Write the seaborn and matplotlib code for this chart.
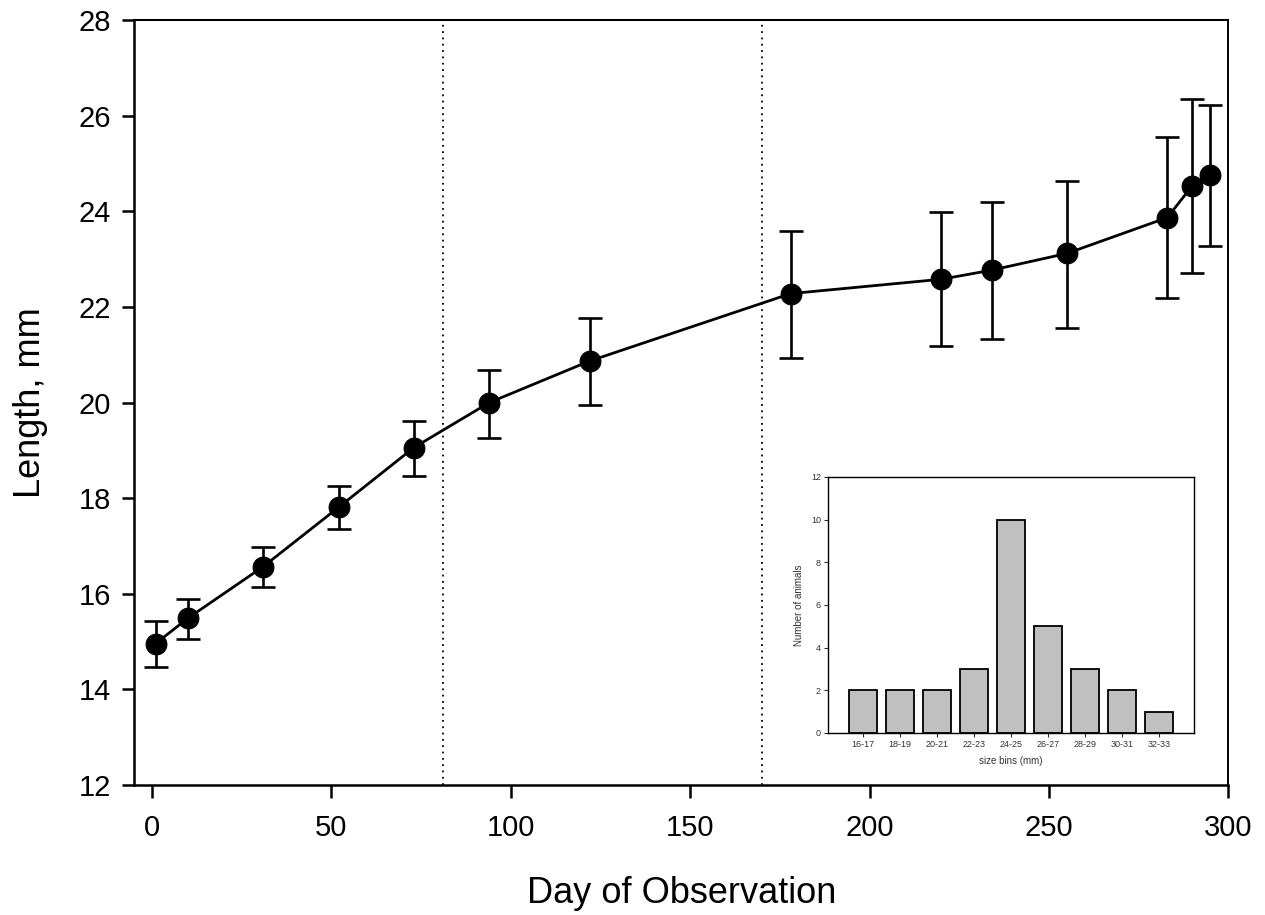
import seaborn as sns
import pandas as pd
import matplotlib.pyplot as plt

# growth data
days = [1, 10, 31, 52, 73, 94, 122, 178, 220, 234, 255, 283, 290, 295]
length_mm = [14.96, 15.49, 16.57, 17.81, 19.06, 20.0, 20.87, 22.28, 22.58, 22.77, 23.12, 23.87, 24.54, 24.76]
err_low = [0.49, 0.44, 0.42, 0.46, 0.60, 0.73, 0.91, 1.34, 1.39, 1.44, 1.57, 1.68, 1.82, 1.49]
err_high = [0.47, 0.41, 0.41, 0.44, 0.56, 0.69, 0.89, 1.31, 1.40, 1.43, 1.51, 1.68, 1.80, 1.46]
phase_breaks = [81, 170]

# inset histogram
size_bins = ["16-17", "18-19", "20-21", "22-23", "24-25", "26-27", "28-29", "30-31", "32-33"]
n_animals = [2, 2, 2, 3, 10, 5, 3, 2, 1]

sns.set_style("ticks")
plt.rcParams['font.family'] = ['Liberation Sans', 'DejaVu Sans']

growth = pd.DataFrame({"Day": days, "Length": length_mm})
hist = pd.DataFrame({"bin": size_bins, "count": n_animals})

fig = plt.figure(figsize=(12.65, 9.15), dpi=100)
ax = fig.add_axes([0.106, 0.142, 0.865, 0.836])

for xb in phase_breaks:
    ax.axvline(xb, color="black", ls=(0, (1, 2.5)), lw=1.3, zorder=1)

ax.errorbar(days, length_mm, yerr=[err_low, err_high], fmt="none", ecolor="black",
            elinewidth=1.9, capsize=8.5, capthick=1.9, zorder=2)
sns.lineplot(data=growth, x="Day", y="Length", ax=ax, color="black", lw=2,
             marker="o", markersize=15, markeredgecolor="black", zorder=3)

ax.set_xlim(-5, 300)
ax.set_ylim(12, 28)
ax.set_xticks([0, 50, 100, 150, 200, 250, 300])
ax.set_yticks(range(12, 29, 2))
ax.tick_params(axis="both", labelsize=21, width=1.8, direction="out", colors="black")
ax.tick_params(axis="y", length=8.5, pad=8)
ax.tick_params(axis="x", length=9, pad=12)
for side in ["left", "bottom", "top", "right"]:
    ax.spines[side].set_linewidth(1.8)
    ax.spines[side].set_color("black")
ax.spines["top"].set_linewidth(1.5)
ax.spines["right"].set_linewidth(1.4)
ax.set_xlabel("Day of Observation", fontsize=26, labelpad=24, color="black")
ax.set_ylabel("Length, mm", fontsize=26, labelpad=22, color="black")

# inset
ins = fig.add_axes([0.6545, 0.199, 0.2893, 0.2798])
sns.barplot(data=hist, x="bin", y="count", ax=ins, color="#c0c0c0",
            edgecolor="black", linewidth=1.3, width=0.76, saturation=1)
ins.set_xlim(-0.95, 8.95)
ins.set_ylim(0, 12)
ins.set_yticks(range(0, 13, 2))
ins.tick_params(axis="both", labelsize=6.5, length=3, width=0.8, pad=2, colors="#333333")
for side in ["left", "bottom", "top", "right"]:
    ins.spines[side].set_linewidth(1.0)
    ins.spines[side].set_color("black")
ins.set_xlabel("size bins (mm)", fontsize=7, color="#333333", labelpad=5)
ins.set_ylabel("Number of animals", fontsize=7, color="#333333", labelpad=5)

fig.savefig("out.png", dpi=100)
